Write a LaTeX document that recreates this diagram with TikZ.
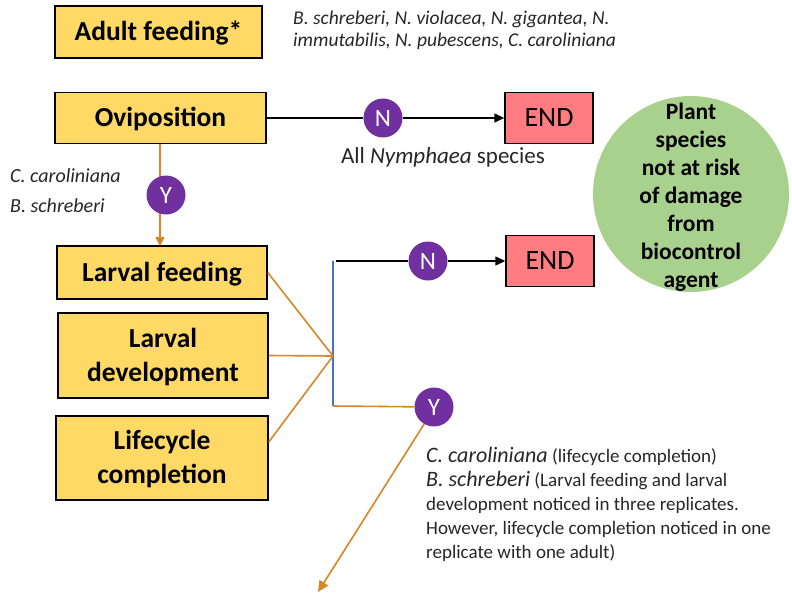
\documentclass[tikz,border=0pt]{standalone}
\usepackage{fontspec}
\setmainfont{Carlito}
\usetikzlibrary{arrows.meta}
\definecolor{boxyellow}{RGB}{255,217,102}
\definecolor{endred}{RGB}{255,124,128}
\definecolor{okgreen}{RGB}{169,209,142}
\definecolor{ynpurple}{RGB}{112,48,160}
\definecolor{linkorange}{RGB}{214,134,38}
\definecolor{barblue}{RGB}{68,114,196}
\tikzset{
  stagebox/.style={draw=black, line width=1.5pt, fill=boxyellow, font=\bfseries\fontsize{27.5}{34}\selectfont, align=center, inner sep=0pt, text depth=2pt},
  endbox/.style={draw=black, line width=1.5pt, fill=endred, font=\fontsize{28}{30}\selectfont, inner sep=0pt, minimum width=88pt, minimum height=51pt},
  ynnode/.style={circle, fill=ynpurple, text=white, font=\fontsize{25}{27}\selectfont, inner sep=0pt, minimum size=39pt},
  olink/.style={draw=linkorange, line width=1.6pt},
  blink/.style={draw=black, line width=1.5pt},
  note/.style={font=\itshape\fontsize{19.5}{22}\selectfont, align=left, text=black!85, inner sep=0pt, anchor=north west},
}
\begin{document}
\begin{tikzpicture}[x=1pt,y=-1pt]
\useasboundingbox (0,0) rectangle (792,595);
% boxes
\node[stagebox, minimum width=207pt, minimum height=52pt] (adult) at (158.5,32) {Adult feeding*};
\node[stagebox, minimum width=211pt, minimum height=51pt] (ovi) at (160.5,118) {Oviposition};
\node[stagebox, minimum width=210pt, minimum height=53pt] (lfeed) at (162,272.5) {Larval feeding};
\node[stagebox, minimum width=210pt, minimum height=85pt] (ldev) at (163,355.5) {Larval\\development};
\node[stagebox, minimum width=212pt, minimum height=84pt] (life) at (162,458) {Lifecycle\\completion};
\node[endbox] (end1) at (549,118) {END};
\node[endbox] (end2) at (550,261) {END};
\node[circle, fill=okgreen, minimum size=196pt, inner sep=0pt] (green) at (691,194) {};
\node[align=center, inner sep=0pt, font=\bfseries\fontsize{23.5}{28}\selectfont, anchor=center] (greentext) at ([yshift=-3pt]green.center) {Plant\\species\\not at risk\\of damage\\from\\biocontrol\\agent};
% notes
\node[note] (adultnote) at (293,11) {B. schreberi, N. violacea, N. gigantea, N.\\immutabilis, N. pubescens, C. caroliniana};
% oviposition N branch
\node[ynnode] (n1) at (383,118) {N};
\draw[blink] (ovi.east) -- (n1);
\draw[blink, -{Triangle[length=10pt,width=9pt]}] (n1) -- (end1.west);
\node[font=\fontsize{23}{26}\selectfont, anchor=north, text=black!85, inner sep=0pt] (nymph) at (443,147) {All \textit{Nymphaea} species};
% oviposition Y branch
\coordinate (oviB) at (160,143.5);
\coordinate (lfT) at (160,246);
\draw[olink, -{Triangle[length=9pt,width=9pt]}] (oviB) -- (lfT);
\node[ynnode] (y1) at (166,195) {Y};
\node[font=\itshape\fontsize{20}{30}\selectfont, align=left, anchor=north west, inner sep=0pt, text=black!85] (ynote1) at (10,168) {C. caroliniana\\B. schreberi};
% junction
\coordinate (jtop) at (333,261);
\coordinate (jbot) at (333,406);
\coordinate (jmid) at (333,356);
\draw[draw=barblue, line width=1.5pt] (jtop) -- (jbot);
\draw[olink] (lfeed.east) -- (jmid);
\draw[olink] (ldev.east) -- (jmid);
\draw[olink] (life.east |- 0,442) -- (jmid);
% N branch 2
\coordinate (jtopr) at (336,261);
\node[ynnode] (n2) at (428,261) {N};
\draw[blink] (jtopr) -- (n2);
\draw[blink, -{Triangle[length=10pt,width=9pt]}] (n2) -- (end2.west);
% Y branch 2
\node[ynnode] (y2) at (434,407) {Y};
\draw[olink] (jbot) -- (y2);
\coordinate (arrowend) at (318,592);
\draw[olink, -{Triangle[length=11pt,width=10pt]}] (y2.240) -- (arrowend);
\node[font=\fontsize{19}{24}\selectfont, align=left, anchor=north west, inner sep=0pt, text=black!85] (ynote2) at (426,447) {{\itshape\fontsize{22}{24}\selectfont C. caroliniana} (lifecycle completion)\\
{\itshape\fontsize{22}{24}\selectfont B. schreberi} (Larval feeding and larval\\
development noticed in three replicates.\\
However, lifecycle completion noticed in one\\
replicate with one adult)};
\end{tikzpicture}
\end{document}
